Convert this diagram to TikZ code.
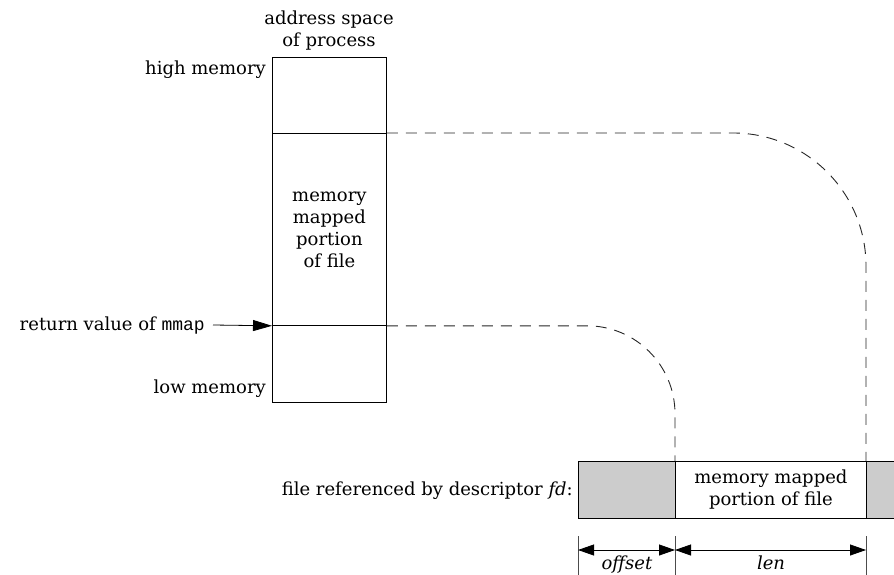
\documentclass[tikz,border=0pt]{standalone}
\usepackage{fontspec}
\setmainfont{DejaVu Serif}
\setmonofont{Liberation Mono}
\usetikzlibrary{arrows.meta}

\definecolor{filegray}{HTML}{CCCCCC}

\tikzset{
  cell/.style={draw, line width=0.8pt, inner sep=0pt, anchor=north west},
  lbl/.style={inner sep=0pt, align=center},
  mapline/.style={draw=black!85, line width=0.9pt, dash pattern=on 11pt off 8pt},
  ptr/.style={line width=0.8pt, -{Triangle[length=19pt,width=11pt]}},
  dim/.style={line width=0.8pt, {Triangle[length=16pt,width=11pt]}-{Triangle[length=16pt,width=11pt]}},
  tick/.style={line width=0.7pt, draw=black!70},
}

\begin{document}
\begin{tikzpicture}[x=1pt, y=-1pt, font=\fontsize{18}{22}\selectfont]
  \useasboundingbox (0,0) rectangle (894,575);

  % address space of the process: three stacked regions
  \node[cell, minimum width=114pt, minimum height=76pt]  (hi)  at (272,57) {};
  \node[cell, minimum width=114pt, minimum height=192pt] (map) at (272,133) {};
  \node[cell, minimum width=114pt, minimum height=77pt]  (lo)  at (272,325) {};
  \node[lbl] (maptext) at (map.center) {memory\\mapped\\portion\\of file};

  \node[lbl] (title) at (329,31) {address space\\of process};
  \node[lbl, anchor=base east] (hilbl) at (266,75) {high memory};
  \node[lbl, anchor=base east] (lolbl) at (266,393) {low memory};
  \node[lbl, anchor=base east] (ret) at (205,330) {return value of {\fontsize{18}{22}\selectfont\ttfamily mmap}};
  \coordinate (retstart) at (213,325);
  \draw[ptr] (retstart) -- (map.south west);

  % the file referenced by the descriptor
  \node[cell, fill=filegray, minimum width=97pt,  minimum height=57pt] (fleft)  at (578,461) {};
  \node[cell, fill=white,    minimum width=191pt, minimum height=57pt] (fmid)   at (675,461) {};
  \node[cell, fill=filegray, minimum width=40pt,  minimum height=57pt] (fright) at (866,461) {};
  \node[lbl] (fmidtext) at (fmid.center) {memory mapped\\portion of file};
  \node[lbl, anchor=base east] (fdlbl) at (573,495) {file referenced by descriptor \textit{fd}:};

  % mapping between the file and the address space
  \draw[mapline, rounded corners=133pt] (map.north east) -| (fright.north west);
  \draw[mapline, rounded corners=88pt]  (map.south east) -| (fmid.north west);

  % offset and len dimensions
  \coordinate (t1a) at (578,536); \coordinate (t1b) at (578,580);
  \coordinate (t2a) at (675,536); \coordinate (t2b) at (675,580);
  \coordinate (t3a) at (866,536); \coordinate (t3b) at (866,580);
  \draw[tick] (t1a) -- (t1b);
  \draw[tick] (t2a) -- (t2b);
  \draw[tick] (t3a) -- (t3b);
  \coordinate (d1) at (578,550);
  \coordinate (d2) at (675,550);
  \coordinate (d3) at (866,550);
  \draw[dim] (d1) -- (d2);
  \draw[dim] (d2) -- (d3);
  \node[lbl, anchor=base] (offlbl) at (627,569) {\itshape offset};
  \node[lbl, anchor=base] (lenlbl) at (771,569) {\itshape len};
\end{tikzpicture}
\end{document}
